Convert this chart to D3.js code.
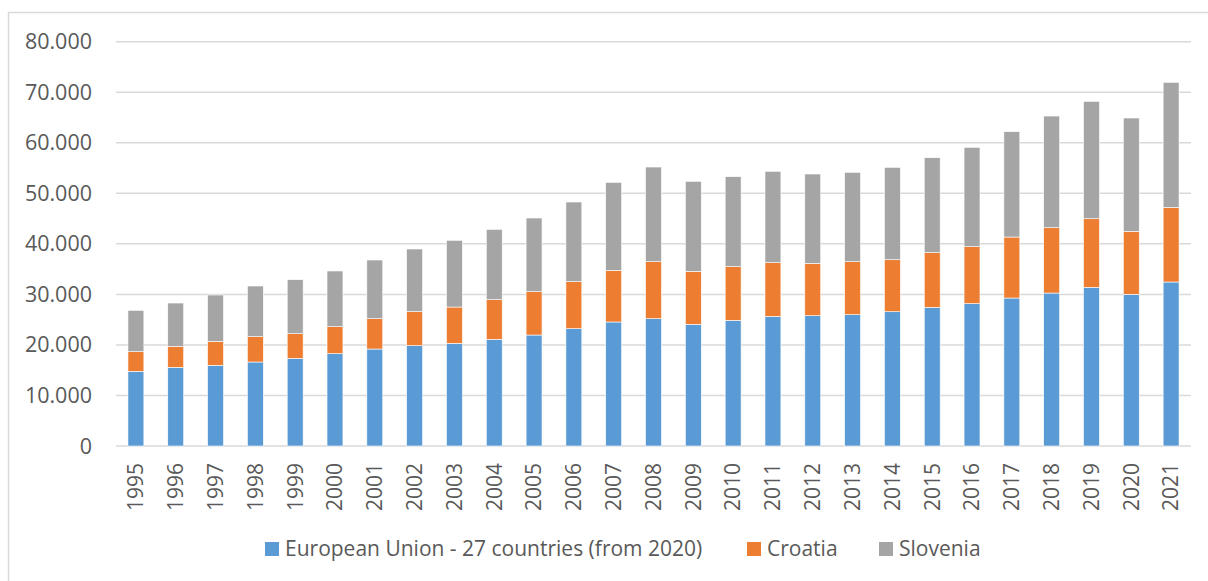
<!DOCTYPE html>
<html>
<head>
<meta charset="utf-8">
<script src="https://cdn.jsdelivr.net/npm/d3@7"></script>
<style>
  body { margin: 0; background: #fff; }
  svg text { font-family: "Open Sans", sans-serif; fill: #595959; }
</style>
</head>
<body>
<svg id="chart"></svg>
<script>
const years = ["1995","1996","1997","1998","1999","2000","2001","2002","2003","2004","2005","2006","2007","2008","2009","2010","2011","2012","2013","2014","2015","2016","2017","2018","2019","2020","2021"];
const euValues = [14780,15570,15970,16620,17350,18270,19190,19850,20320,21110,21960,23220,24540,25190,24080,24870,25660,25780,25980,26570,27440,28160,29280,30270,31400,30020,32450];
const croatiaValues = [3880,4160,4740,5010,4870,5340,6000,6730,7180,7840,8580,9290,10220,11280,10480,10610,10610,10370,10490,10290,10810,11280,12070,12920,13570,12460,14780];
const sloveniaValues = [8190,8560,9170,10030,10690,11020,11610,12400,13200,13920,14570,15770,17410,18730,17810,17810,18080,17670,17680,18280,18790,19660,20840,22100,23230,22420,24730];
const seriesNames = ["European Union - 27 countries (from 2020)", "Croatia", "Slovenia"];
const yTicks = [0,10000,20000,30000,40000,50000,60000,70000,80000];

const W = 1208, H = 581;
const margin = { top: 41.7, right: 17, bottom: 135, left: 116 };
const width = W - margin.left - margin.right,
  height = H - margin.top - margin.bottom;

const svg0 = d3.select("#chart").attr("width", W).attr("height", H);

// outer chart border
svg0.append("rect")
  .attr("x", 8.5).attr("y", 12.5)
  .attr("width", 1400).attr("height", 800)
  .attr("fill", "none")
  .attr("stroke", "#d9d9d9")
  .attr("stroke-width", 1.5);

const svg = svg0.append("g")
  .attr("transform", `translate(${margin.left},${margin.top})`);

const data = years.map((y, i) => ({
  year: y,
  eu: euValues[i],
  hr: croatiaValues[i],
  si: sloveniaValues[i]
}));

const stack = d3.stack().keys(["eu", "hr", "si"]);
const series = stack(data);

const x = d3.scaleBand().domain(years).range([0, width]).paddingInner(0.6).paddingOuter(0.3);
const y = d3.scaleLinear().domain([0, 80000]).range([height, 0]);
const color = d3.scaleOrdinal().domain(["eu", "hr", "si"]).range(["#5b9bd5", "#ed7d31", "#a5a5a5"]);

const fmt = d3.formatLocale({ decimal: ",", thousands: ".", grouping: [3], currency: ["", ""] }).format(",");

// gridlines
svg.append("g")
  .selectAll("line")
  .data(yTicks)
  .join("line")
  .attr("x1", 0)
  .attr("x2", width)
  .attr("y1", (d) => y(d))
  .attr("y2", (d) => y(d))
  .attr("stroke", "#d9d9d9")
  .attr("stroke-width", 1.5);

// y labels
svg.append("g")
  .selectAll("text")
  .data(yTicks)
  .join("text")
  .attr("x", -24)
  .attr("y", (d) => y(d))
  .attr("dy", "0.35em")
  .attr("text-anchor", "end")
  .attr("font-size", "21.5px")
  .text((d) => fmt(d));

// bars
svg.append("g")
  .selectAll("g")
  .data(series)
  .join("g")
  .attr("fill", (d) => color(d.key))
  .selectAll("rect")
  .data((d) => d)
  .join("rect")
  .attr("x", (d) => x(d.data.year))
  .attr("y", (d) => y(d[1]))
  .attr("width", x.bandwidth())
  .attr("height", (d) => y(d[0]) - y(d[1]))
  .attr("stroke", "#fff")
  .attr("stroke-width", 0.6);

// x labels
svg.append("g")
  .selectAll("text")
  .data(years)
  .join("text")
  .attr("transform", (d) => `translate(${x(d) + x.bandwidth() / 2},${height + 17}) rotate(-90)`)
  .attr("dy", "0.35em")
  .attr("text-anchor", "end")
  .attr("font-size", "21px")
  .text((d) => d);

// legend
const legendPos = [265, 747, 879];
const legend = svg0.append("g");
["eu", "hr", "si"].forEach((k, i) => {
  const row = legend.append("g").attr("transform", `translate(${legendPos[i]},549)`);
  row.append("rect")
    .attr("x", 0).attr("y", -7)
    .attr("width", 14).attr("height", 14)
    .attr("fill", color(k));
  row.append("text")
    .attr("x", 20)
    .attr("dy", "0.35em")
    .attr("font-size", "21px")
    .text(seriesNames[i]);
});
</script>
</body>
</html>
